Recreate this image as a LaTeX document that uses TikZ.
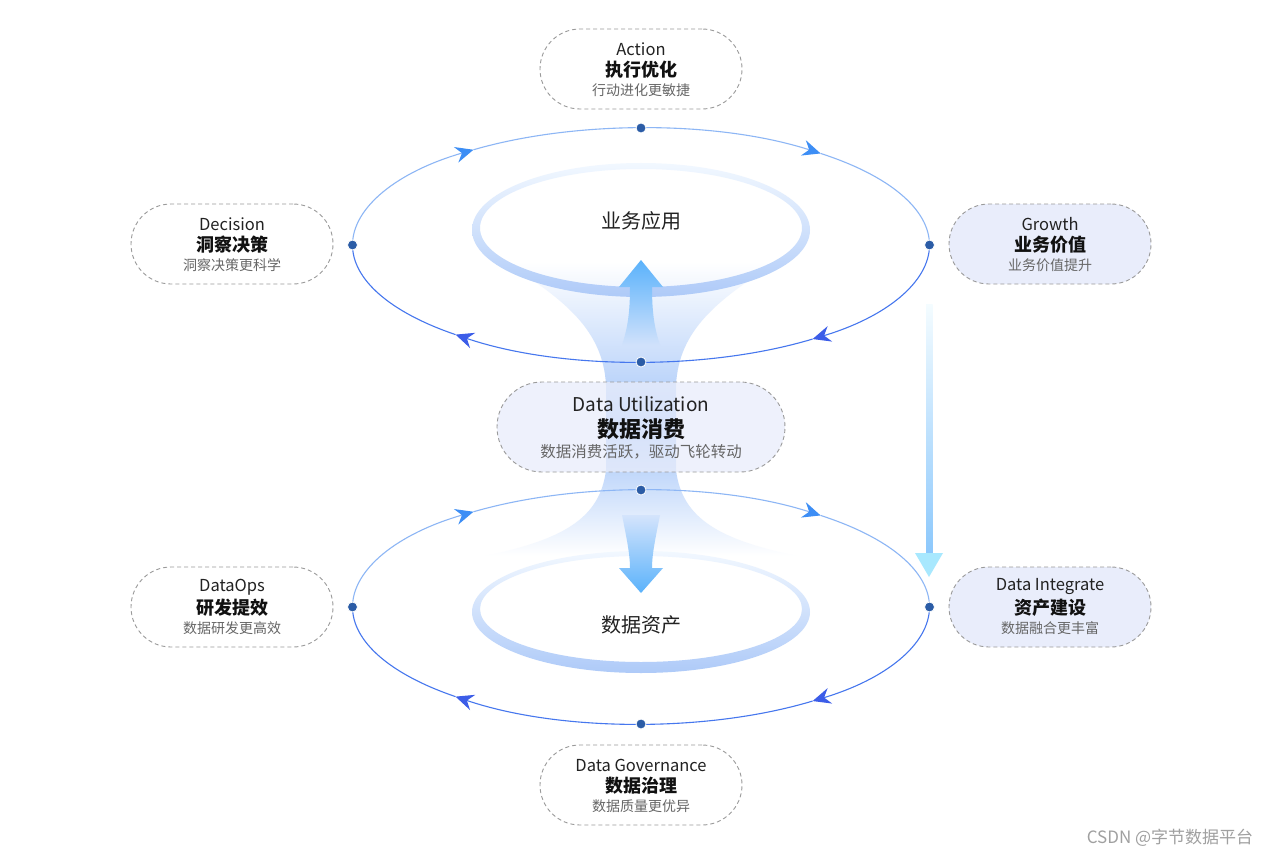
\documentclass[tikz,border=0pt]{standalone}
\usepackage{fontspec}
\setmainfont{Noto Sans CJK SC}
\usetikzlibrary{arrows.meta}
\definecolor{dotc}{HTML}{2B5CA6}
\definecolor{funC}{HTML}{A2C4F8}
\definecolor{arrHead}{HTML}{5AB2FB}
\definecolor{ringTop}{HTML}{F2F8FF}
\definecolor{ringMid}{HTML}{CDE3FC}
\definecolor{ringBot}{HTML}{AECAF8}
\definecolor{arcU}{HTML}{8DB6F5}
\definecolor{arcL}{HTML}{4677EE}
\definecolor{tipU}{HTML}{3D8EF5}
\definecolor{tipL}{HTML}{3C5DE8}
\definecolor{pillline}{HTML}{9A9A9A}
\definecolor{pillfill}{HTML}{E9EDFB}
\definecolor{txtA}{HTML}{222222}
\definecolor{txtB}{HTML}{111111}
\definecolor{txtC}{HTML}{666666}
\definecolor{vTop}{HTML}{F4FCFF}
\definecolor{vBot}{HTML}{8CC8FC}
\definecolor{vHead}{HTML}{A8E8FE}
\definecolor{wm}{HTML}{A0A0A0}
\tikzset{
 pill/.style={draw=pillline, dash pattern=on 4pt off 3pt, line width=0.9pt, rounded corners=40pt, minimum width=202pt, minimum height=80pt, inner sep=0pt, fill=white},
 pillF/.style={pill, fill=pillfill},
 en/.style={font=\fontsize{16.5}{18}\selectfont, text=txtA, inner sep=0pt},
 cn/.style={font=\bfseries\fontsize{18}{20}\selectfont, text=txtB, inner sep=0pt},
 sub/.style={font=\fontsize{14}{16}\selectfont, text=txtC, inner sep=0pt},
 dot/.style={circle, fill=dotc, draw=white, line width=0.8pt, inner sep=0pt, minimum size=10pt},
 arcup/.style={draw=arcU, line width=1.1pt},
 arclo/.style={draw=arcL, line width=1.1pt},
 tipup/.style={-{Stealth[length=18pt,width=16pt,inset=6pt,color=tipU]}},
 tiplo/.style={-{Stealth[length=18pt,width=16pt,inset=6pt,color=tipL]}},
 ringtext/.style={font=\fontsize{20}{22}\selectfont, text=txtA, inner sep=0pt},
}
\newcommand\pilltext[4]{%
 \node[en] (#1-en) at ([yshift=20pt]#1.center) {#2};
 \node[cn] (#1-cn) at ([yshift=-1pt]#1.center) {#3};
 \node[sub] (#1-sub) at ([yshift=-21pt]#1.center) {#4};}
\begin{document}
\begin{tikzpicture}[x=1pt,y=-1pt]
\useasboundingbox[fill=white] (0,0) rectangle (1280,856);

% funnel
\shade[top color=white, bottom color=funC] (505,262) .. controls (565,300) and (603,330) .. (606,385) -- (606,430) -- (676,430) -- (676,385) .. controls (679,330) and (717,300) .. (777,262) -- cycle;
\shade[top color=funC, middle color=funC!70, bottom color=white] (606,430) -- (606,470) .. controls (600,520) and (560,540) .. (485,556) -- (797,556) .. controls (722,540) and (682,520) .. (676,470) -- (676,430) -- cycle;

% rings
\shade[even odd rule, top color=ringTop, middle color=ringMid, bottom color=ringBot] (641,230) ellipse [x radius=169, y radius=67] (641,228) ellipse [x radius=161, y radius=59];
\shade[even odd rule, top color=ringTop, middle color=ringMid, bottom color=ringBot] (641,612) ellipse [x radius=169, y radius=61] (641,609) ellipse [x radius=161, y radius=53];
\node[ringtext] (app) at (641,221) {业务应用};
\node[ringtext] (asset) at (641,625) {数据资产};

% funnel arrows
\shade[top color=arrHead, bottom color=funC!50!white] (641,260) -- (663,287) -- (652,287) .. controls (652,315) and (655,330) .. (660,345) -- (622,345) .. controls (627,330) and (630,315) .. (630,287) -- (619,287) -- cycle;
\shade[top color=funC!46!white, bottom color=arrHead] (622,515) .. controls (627,540) and (630,555) .. (630,568) -- (619,568) -- (641,593) -- (663,568) -- (652,568) .. controls (652,555) and (655,540) .. (660,515) -- cycle;

% dots coordinates
\coordinate (t1) at (641,128);
\coordinate (t2) at (929.5,245);
\coordinate (t3) at (641,362);
\coordinate (t4) at (352.5,245);
\coordinate (b1) at (641,490);
\coordinate (b2) at (929.5,607);
\coordinate (b3) at (641,724);
\coordinate (b4) at (352.5,607);

% upper loop
\draw[arcup, tipup] (t4) arc[start angle=180, end angle=234.5, x radius=288.5, y radius=117] coordinate (ua);
\draw[arcup, tipup] (ua) arc[start angle=234.5, end angle=308.5, x radius=288.5, y radius=117] coordinate (ub);
\draw[arcup] (ub) arc[start angle=308.5, end angle=360, x radius=288.5, y radius=117];
\draw[arclo, tiplo] (t2) arc[start angle=0, end angle=53.5, x radius=288.5, y radius=117] coordinate (uc);
\draw[arclo, tiplo] (uc) arc[start angle=53.5, end angle=130, x radius=288.5, y radius=117] coordinate (ud);
\draw[arclo] (ud) arc[start angle=130, end angle=180, x radius=288.5, y radius=117];

% lower loop
\draw[arcup, tipup] (b4) arc[start angle=180, end angle=234.5, x radius=288.5, y radius=117] coordinate (la);
\draw[arcup, tipup] (la) arc[start angle=234.5, end angle=308.5, x radius=288.5, y radius=117] coordinate (lb);
\draw[arcup] (lb) arc[start angle=308.5, end angle=360, x radius=288.5, y radius=117];
\draw[arclo, tiplo] (b2) arc[start angle=0, end angle=53.5, x radius=288.5, y radius=117] coordinate (lc);
\draw[arclo, tiplo] (lc) arc[start angle=53.5, end angle=130, x radius=288.5, y radius=117] coordinate (ld);
\draw[arclo] (ld) arc[start angle=130, end angle=180, x radius=288.5, y radius=117];

% dots
\foreach \p in {t1,t2,t3,t4,b1,b2,b3,b4} \node[dot] (d\p) at (\p) {};

% vertical gradient arrow
\coordinate (vs) at (929,304);
\coordinate (vh) at (929,553);
\coordinate (ve) at (929,577);
\shade[top color=vTop, middle color=vBot!60, bottom color=vBot] ([xshift=-3pt]vs) rectangle ([xshift=3.5pt]vh);
\fill[vHead] ([xshift=-14pt]vh) -- ([xshift=14pt]vh) -- (ve) -- cycle;

% nodes
\node[pill] (act) at (641,69) {};
\pilltext{act}{Action}{执行优化}{行动进化更敏捷}
\node[pill] (dec) at (232,244) {};
\pilltext{dec}{Decision}{洞察决策}{洞察决策更科学}
\node[pillF] (gro) at (1050,244) {};
\pilltext{gro}{Growth}{业务价值}{业务价值提升}
\node[pill] (ops) at (232,607) {};
\pilltext{ops}{DataOps}{研发提效}{数据研发更高效}
\node[pillF] (int) at (1050,607) {};
\pilltext{int}{Data Integrate}{资产建设}{数据融合更丰富}
\node[pill] (gov) at (641,785) {};
\pilltext{gov}{Data Governance}{数据治理}{数据质量更优异}

% center node
\node[pill, fill=pillfill, fill opacity=0.75, minimum width=288pt, minimum height=90pt, rounded corners=45pt] (use) at (641,427) {};
\node[en, font=\fontsize{19}{21}\selectfont] (use-en) at ([yshift=23pt]use.center) {Data Utilization};
\node[cn, font=\bfseries\fontsize{22}{24}\selectfont] (use-cn) at ([yshift=-2pt]use.center) {数据消费};
\node[sub, font=\fontsize{15.5}{18}\selectfont] (use-sub) at ([yshift=-25pt]use.center) {数据消费活跃，驱动飞轮转动};

% watermark
\node[font=\fontsize{17}{19}\selectfont, text=wm, inner sep=0pt] (wmk) at (1170,838) {CSDN @字节数据平台};
\end{tikzpicture}
\end{document}
